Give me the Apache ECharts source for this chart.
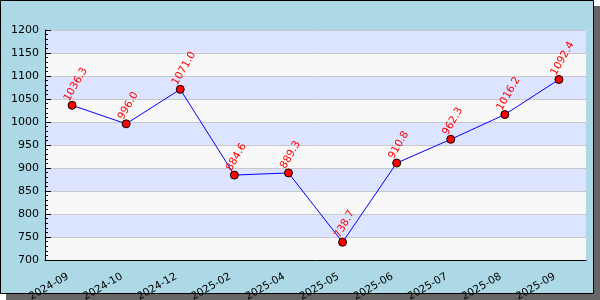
<!DOCTYPE html>
<html><head><meta charset="utf-8">
<script src="https://cdn.jsdelivr.net/npm/echarts@6/dist/echarts.min.js"></script>
<style>html,body{margin:0;padding:0;background:#fff}#c{width:600px;height:300px}</style>
</head><body><div id="c"></div>
<script>
const categories = ['2024-09','2024-10','2024-12','2025-02','2025-04','2025-05','2025-06','2025-07','2025-08','2025-09'];
const values = [1036.3, 996.0, 1071.0, 884.6, 889.3, 738.7, 910.8, 962.3, 1016.2, 1092.4];
const yMin = 700, yMax = 1200, yStep = 50;

const chart = echarts.init(document.getElementById('c'), null, {renderer:'canvas'});
chart.setOption({
  animation: false,
  textStyle: {fontFamily: 'DejaVu Sans'},
  graphic: [
    {type:'rect', z:-10, silent:true, shape:{x:6,y:6,width:594,height:294}, style:{fill:'#666666'}},
    {type:'rect', z:-9, silent:true, shape:{x:0.5,y:0.5,width:593,height:293}, style:{fill:'#add8e6', stroke:'#000', lineWidth:1}}
  ],
  grid: {left:45, top:30, right:14, bottom:40, containLabel:false, outerBoundsMode:'none'},
  xAxis: {
    type:'category', data: categories, boundaryGap:true,
    axisLine:{lineStyle:{color:'#000', width:1}},
    axisTick:{inside:true, alignWithLabel:true, length:5, lineStyle:{color:'#000'}},
    axisLabel:{rotate:30, color:'#000', fontSize:10.5, fontFamily:'DejaVu Sans', margin:7, interval:0,
      verticalAlign:'top', padding:[0,8,0,0]},
    splitLine:{show:false}
  },
  yAxis: {
    type:'value', min:yMin, max:yMax, interval:yStep,
    axisLine:{show:true, lineStyle:{color:'#000', width:1}},
    axisTick:{show:true, inside:true, length:6, lineStyle:{color:'#000'}},
    minorTick:{show:true, splitNumber:5, length:3, lineStyle:{color:'#000'}},
    axisLabel:{color:'#000', fontSize:11, fontFamily:'DejaVu Sans', margin:6, formatter: v => String(v)},
    splitLine:{show:true, lineStyle:{color:'#c8c8c8', width:1}},
    splitArea:{show:true, areaStyle:{color:['#f8f8f8','#dde4ff']}}
  },
  series: [{
    type:'line', data: values,
    lineStyle:{color:'#0000ff', width:1},
    symbol:'circle', symbolSize:8,
    itemStyle:{color:'#ff0000', borderColor:'#000', borderWidth:1},
    label:{show:true, position:'top', distance:10, rotate:60, align:'left', verticalAlign:'middle',
      color:'#ff0000', fontSize:10.5, fontFamily:'DejaVu Sans', offset:[-11,0],
      formatter: p => p.value.toFixed(1)}
  }]
});
</script></body></html>
